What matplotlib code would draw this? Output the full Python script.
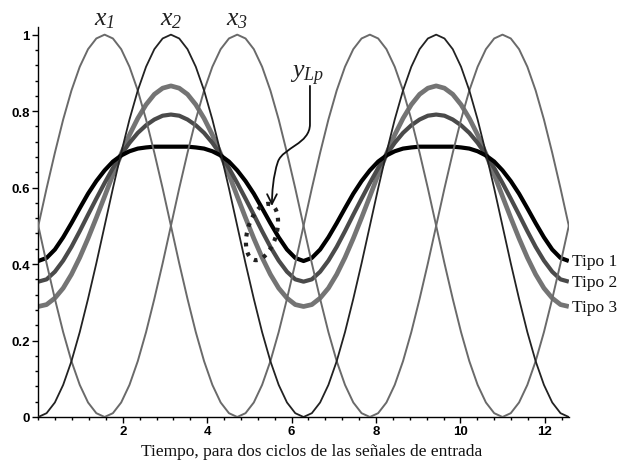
import numpy as np
import matplotlib
matplotlib.use("Agg")
import matplotlib.pyplot as plt
from matplotlib.ticker import MultipleLocator, FixedLocator
from matplotlib.patches import FancyArrowPatch
from matplotlib.path import Path

plt.rcParams['mathtext.fontset'] = 'custom'
plt.rcParams['mathtext.rm'] = 'Liberation Serif:italic'
plt.rcParams['mathtext.it'] = 'Liberation Serif:italic'

# time axis: two cycles of the input signals, 65 samples
t = np.linspace(0, 4 * np.pi, 65)

x1 = [.500, .598, .691, .778, .854, .916, .962, .990, 1.000, .990, .962, .916, .854, .778, .691, .598,
      .500, .402, .309, .222, .146, .084, .038, .010, .000, .010, .038, .084, .146, .222, .309, .402,
      .500, .598, .691, .778, .854, .916, .962, .990, 1.000, .990, .962, .916, .854, .778, .691, .598,
      .500, .402, .309, .222, .146, .084, .038, .010, .000, .010, .038, .084, .146, .222, .309, .402,
      .500]
x2 = [.000, .010, .038, .084, .146, .222, .309, .402, .500, .598, .691, .778, .854, .916, .962, .990,
      1.000, .990, .962, .916, .854, .778, .691, .598, .500, .402, .309, .222, .146, .084, .038, .010,
      .000, .010, .038, .084, .146, .222, .309, .402, .500, .598, .691, .778, .854, .916, .962, .990,
      1.000, .990, .962, .916, .854, .778, .691, .598, .500, .402, .309, .222, .146, .084, .038, .010,
      .000]
x3 = [.500, .402, .309, .222, .146, .084, .038, .010, .000, .010, .038, .084, .146, .222, .309, .402,
      .500, .598, .691, .778, .854, .916, .962, .990, 1.000, .990, .962, .916, .854, .778, .691, .598,
      .500, .402, .309, .222, .146, .084, .038, .010, .000, .010, .038, .084, .146, .222, .309, .402,
      .500, .598, .691, .778, .854, .916, .962, .990, 1.000, .990, .962, .916, .854, .778, .691, .598,
      .500]
tipo1 = [.408, .416, .438, .470, .507, .546, .584, .617, .645, .668, .684, .695, .702, .705, .707, .707,
         .707, .707, .707, .705, .702, .695, .684, .668, .645, .617, .584, .546, .507, .470, .438, .416,
         .408, .416, .438, .470, .507, .546, .584, .617, .645, .668, .684, .695, .702, .705, .707, .707,
         .707, .707, .707, .705, .702, .695, .684, .668, .645, .617, .584, .546, .507, .470, .438, .416,
         .408]
tipo2 = [.354, .360, .380, .409, .445, .486, .529, .571, .612, .651, .686, .717, .743, .763, .778, .788,
         .791, .788, .778, .763, .743, .717, .686, .651, .612, .571, .529, .486, .445, .409, .380, .360,
         .354, .360, .380, .409, .445, .486, .529, .571, .612, .651, .686, .717, .743, .763, .778, .788,
         .791, .788, .778, .763, .743, .717, .686, .651, .612, .571, .529, .486, .445, .409, .380, .360,
         .354]
tipo3 = [.289, .294, .311, .337, .373, .417, .467, .521, .577, .634, .688, .738, .781, .817, .844, .860,
         .866, .860, .844, .817, .781, .738, .688, .634, .577, .521, .467, .417, .373, .337, .311, .294,
         .289, .294, .311, .337, .373, .417, .467, .521, .577, .634, .688, .738, .781, .817, .844, .860,
         .866, .860, .844, .817, .781, .738, .688, .634, .577, .521, .467, .417, .373, .337, .311, .294,
         .289]

signal_labels = [r'$x_{1}$', r'$x_{2}$', r'$x_{3}$']
signal_peaks = [np.pi / 2, np.pi, 3 * np.pi / 2]
tipo_labels = ['Tipo 1', 'Tipo 2', 'Tipo 3']
xtick_vals = [2, 4, 6, 8, 10, 12]
ytick_vals = [0, 0.2, 0.4, 0.6, 0.8, 1]
ytick_text = ['0', '0.2', '0.4', '0.6', '0.8', '1']

fig = plt.figure(figsize=(6.28, 4.64), dpi=100)
ax = fig.add_axes([38.3 / 628, 46 / 464, (568.8 - 38.3) / 628, 390 / 464])

tipo_colors = ['#000000', '#4a4a4a', '#747474']
tipo_lw = [3.0, 3.0, 3.4]
for ys, c, lw in zip([tipo3, tipo2, tipo1], tipo_colors[::-1], tipo_lw[::-1]):
    ax.plot(t, ys, color=c, lw=lw, solid_capstyle='butt', zorder=2)

ax.plot(t, x1, color='#6a6a6a', lw=1.4, zorder=3)
ax.plot(t, x3, color='#6a6a6a', lw=1.4, zorder=3)
ax.plot(t, x2, color='#222222', lw=1.3, zorder=3)

ax.set_xlim(0, 4 * np.pi)
ax.set_ylim(0, 1.02)
for s in ['top', 'right']:
    ax.spines[s].set_visible(False)
ax.spines['left'].set_linewidth(1.0)
ax.spines['bottom'].set_linewidth(1.0)

ax.xaxis.set_major_locator(FixedLocator(xtick_vals))
ax.xaxis.set_minor_locator(MultipleLocator(0.4))
ax.yaxis.set_major_locator(FixedLocator(ytick_vals))
ax.yaxis.set_minor_locator(MultipleLocator(0.04))
ax.set_yticklabels(ytick_text)
ax.tick_params(which='major', length=4, width=1, pad=2, labelsize=9.5)
ax.tick_params(which='minor', length=2.5, width=1)
for lab in ax.get_xticklabels() + ax.get_yticklabels():
    lab.set_fontfamily('Liberation Sans')
    lab.set_fontweight('bold')

for lab, pk in zip(signal_labels, signal_peaks):
    ax.text(pk, 1.045, lab, fontsize=18.5, ha='center', va='center', clip_on=False,
            color='#222222')

ax.text(6.36, 0.898, r'$y_{Lp}$', fontsize=18.5, ha='center', va='center', clip_on=False,
        color='#222222')

for lab, ys in zip(tipo_labels, [tipo1, tipo2, tipo3]):
    ax.text(4 * np.pi + 0.08, ys[-1], lab, fontsize=12.5, family='Liberation Serif',
            ha='left', va='center', clip_on=False, color='#111111')

fig.text(312 / 628, 1 - 452 / 464, 'Tiempo, para dos ciclos de las señales de entrada',
         fontsize=12.5, family='Liberation Serif', ha='center', va='center', color='#111111')

# curved arrow pointing to the output region
verts = [(6.435, 0.866), (6.435, 0.766),
         (6.435, 0.714), (5.80, 0.705), (5.677, 0.668),
         (5.56, 0.630), (5.535, 0.585), (5.535, 0.552)]
codes = [Path.MOVETO, Path.LINETO,
         Path.CURVE4, Path.CURVE4, Path.CURVE4,
         Path.CURVE4, Path.CURVE4, Path.CURVE4]
arrow = FancyArrowPatch(path=Path(verts, codes), arrowstyle='->,head_length=7,head_width=3.5',
                        color='#111111', lw=1.3, zorder=5)
ax.add_patch(arrow)

# dotted ellipse around the outputs (built in pixel space, mapped to data)
ang = np.linspace(0, 2 * np.pi, 200)
cx, cy, a_min, a_maj, rot = 262.0, 464 - 233.0, 14.5, 29.0, np.deg2rad(74)
ex = cx + a_maj * np.cos(ang) * np.cos(rot) - a_min * np.sin(ang) * np.sin(rot)
ey = cy + a_maj * np.cos(ang) * np.sin(rot) + a_min * np.sin(ang) * np.cos(rot)
pts = ax.transData.inverted().transform(np.column_stack([ex, ey]))
ax.plot(pts[:, 0], pts[:, 1], color='#222222', lw=3, linestyle=(0, (0.9, 1.5)),
        dash_capstyle='butt', zorder=6, clip_on=False)

fig.savefig('out.png', dpi=100)
